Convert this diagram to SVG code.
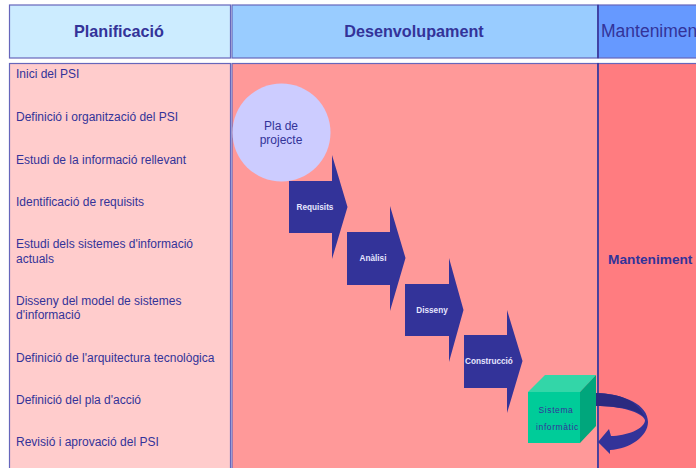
<svg xmlns="http://www.w3.org/2000/svg" width="696" height="468" viewBox="0 0 696 468">
<style>
.hd{font:bold 16.200px "Liberation Sans",Arial,sans-serif;fill:#333399;text-anchor:middle}
.it{font:12px "Liberation Sans",Arial,sans-serif;fill:#333399}
.ar{fill:#333399}
.al{font:bold 8.200px "Liberation Sans",Arial,sans-serif;fill:#e6e6ff;text-anchor:middle}
.box{stroke:#6666bb;stroke-width:1.2}
.sep{stroke:#333399;stroke-width:1.5}
</style>
<rect width="696" height="468" fill="#fff"/>
<g id="header-planificacio"><rect class="box" x="9.5" y="5" width="221" height="53" fill="#ccecff"/><text class="hd" x="119" y="37">Planificació</text></g>
<g id="header-desenvolupament"><rect class="box" x="232" y="5" width="366" height="53" fill="#99ccff"/><text class="hd" x="414" y="37">Desenvolupament</text></g>
<g id="header-manteniment"><rect class="box" x="598" y="5" width="99" height="53" fill="#6699ff"/><line class="sep" x1="598" y1="5" x2="598" y2="58"/><text class="hd" x="601" y="37" style="text-anchor:start;font-size:17.500px;font-weight:normal">Manteniment</text></g>
<g id="col-planificacio"><rect class="box" x="9.5" y="63.5" width="221" height="406" fill="#ffcccc"/>
<text class="it" x="16" y="78">Inici del PSI</text>
<text class="it" x="16" y="121">Definició i organització del PSI</text>
<text class="it" x="16" y="164">Estudi de la informació rellevant</text>
<text class="it" x="16" y="206">Identificació de requisits</text>
<text class="it" x="16" y="248">Estudi dels sistemes d'informació</text>
<text class="it" x="16" y="263">actuals</text>
<text class="it" x="16" y="305">Disseny del model de sistemes</text>
<text class="it" x="16" y="319">d'informació</text>
<text class="it" x="16" y="362">Definició de l'arquitectura tecnològica</text>
<text class="it" x="16" y="404">Definició del pla d'acció</text>
<text class="it" x="16" y="446">Revisió i aprovació del PSI</text></g>
<g id="col-desenvolupament"><rect class="box" x="232" y="63.5" width="366" height="406" fill="#ff9999"/></g>
<g id="col-manteniment"><rect class="box" x="598" y="63.5" width="99" height="406" fill="#ff7c80"/><line class="sep" x1="598" y1="63" x2="598" y2="468"/><text x="608" y="264" style="font:bold 13.700px 'Liberation Sans',Arial,sans-serif;fill:#333399">Manteniment</text></g>
<g id="pla-de-projecte"><circle cx="281.500" cy="132.500" r="49" fill="#ccccff"/><text x="281" y="130" style="font:12px 'Liberation Sans',Arial,sans-serif;fill:#333399;text-anchor:middle">Pla de</text><text x="281" y="144" style="font:12px 'Liberation Sans',Arial,sans-serif;fill:#333399;text-anchor:middle">projecte</text></g>
<g id="requisits"><path class="ar" d="M289 181H332V155L347.500 207L332 259V233H289Z"/><text class="al" x="315" y="210">Requisits</text></g>
<g id="analisi"><path class="ar" d="M347 232H390V206L405.500 258L390 311V285H347Z"/><text class="al" x="373" y="261">Anàlisi</text></g>
<g id="disseny"><path class="ar" d="M405 284H449V258L463.500 310L449 362V336H405Z"/><text class="al" x="432" y="313">Disseny</text></g>
<g id="construccio"><path class="ar" d="M464 335H507V310L522.500 361L507 413V388H464Z"/><text class="al" x="489" y="364">Construcció</text></g>
<g id="sistema-informatic"><path d="M528 392L545 375H596L580 392Z" fill="#33d6a8"/><path d="M580 392L596 375V426L580 443Z" fill="#00a67c"/><rect x="528" y="392" width="52" height="51" fill="#00cc99"/><text x="556" y="413" style="font:8.500px 'Liberation Sans',Arial,sans-serif;fill:#333399;text-anchor:middle;letter-spacing:.6px">Sistema</text><text x="557.500" y="430" style="font:8.500px 'Liberation Sans',Arial,sans-serif;fill:#333399;text-anchor:middle;letter-spacing:.6px">informàtic</text></g>
<g id="connectors"><path d="M596 393C625 394 648 405 648 422C648 436 630 449 610 450L610 454L598 442L609 429L611 436C626 436 645 429 645 420C642 412 620 406 596 406Z" fill="#333399"/><path d="M596 393C620 394 638 400 645 418C640 410 620 406 596 406Z" fill="#2a2a80"/></g>
</svg>
